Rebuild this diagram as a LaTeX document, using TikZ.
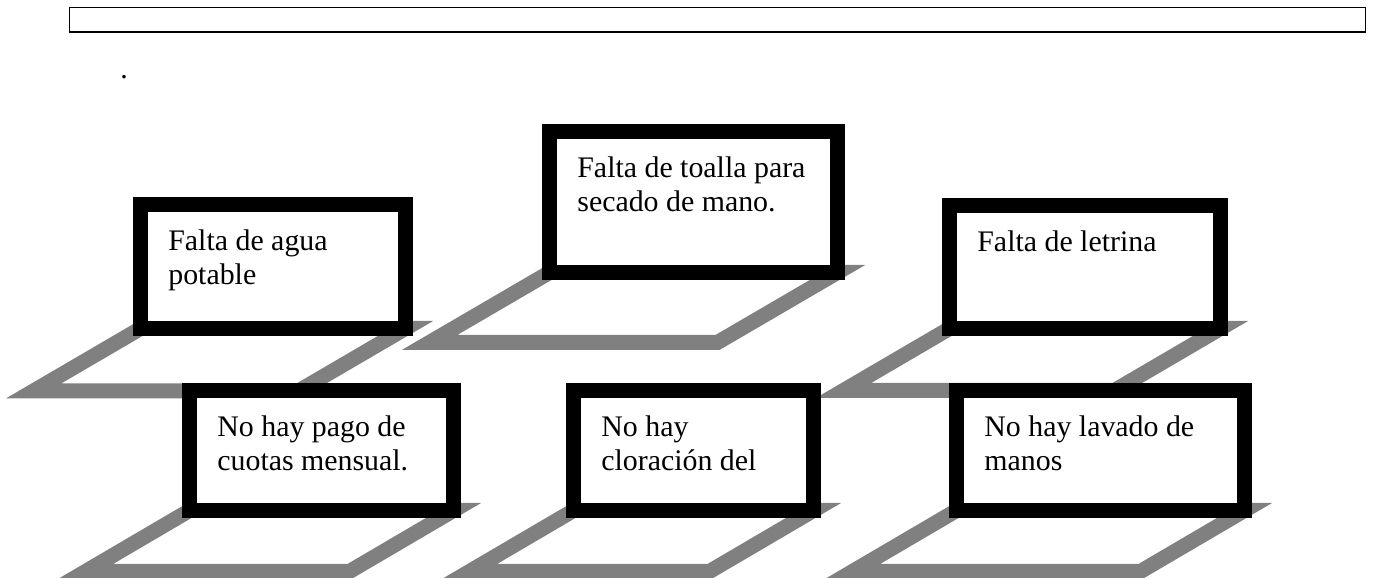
\documentclass[tikz,border=0pt]{standalone}
\usepackage{fontspec}
\setmainfont{Liberation Serif}
\usetikzlibrary{calc,backgrounds}
\tikzset{
  caja/.style={draw, line width=0.3cm, fill=white, outer sep=0pt, inner sep=0pt},
  sombra/.style={draw=gray, line width=0.3cm},
  texto/.style={anchor=base west, inner sep=0pt, font=\fontsize{17}{19.8}\selectfont},
}
\begin{document}
\begin{tikzpicture}[x=0.02cm,y=-0.02cm]
\useasboundingbox (0,0) rectangle (1374,578);
%titulo
        \draw[line width=0.75pt] (69.5,7.5) rectangle (1365.5,32);
        \node[texto] (punto) at (120,78) {.};
%fila de arriba
        \node[caja, minimum width=5.3cm,  minimum height=2.48cm] (agua)    at (273,266.5)  {};
        \node[caja, minimum width=5.76cm, minimum height=2.82cm] (toalla)  at (693.5,202)  {};
        \node[caja, minimum width=5.42cm, minimum height=2.46cm] (letrina) at (1085,267)   {};
%fila de abajo
        \node[caja, minimum width=5.28cm, minimum height=2.4cm]  (pago)    at (321.5,450.5) {};
        \node[caja, minimum width=4.8cm,  minimum height=2.4cm]  (cloro)   at (693.5,450.5) {};
        \node[caja, minimum width=5.76cm, minimum height=2.4cm]  (lavado)  at (1100.5,450.5) {};
%textos
        \node[texto] (t-agua)    at ($(agua.north west)+(27.5,45.5)$)    {\begin{tabular}[t]{@{}l@{}}Falta de agua\\potable\end{tabular}};
        \node[texto] (t-toalla)  at ($(toalla.north west)+(27.5,45.5)$)  {\begin{tabular}[t]{@{}l@{}}Falta de toalla para\\secado de mano.\end{tabular}};
        \node[texto] (t-letrina) at ($(letrina.north west)+(27.5,45.5)$) {Falta de letrina};
        \node[texto] (t-pago)    at ($(pago.north west)+(27.5,45.5)$)    {\begin{tabular}[t]{@{}l@{}}No hay pago de\\cuotas mensual.\end{tabular}};
        \node[texto] (t-cloro)   at ($(cloro.north west)+(27.5,45.5)$)   {\begin{tabular}[t]{@{}l@{}}No hay\\cloración del\end{tabular}};
        \node[texto] (t-lavado)  at ($(lavado.north west)+(27.5,45.5)$)  {\begin{tabular}[t]{@{}l@{}}No hay lavado de\\manos\end{tabular}};
%sombras
\begin{scope}[on background layer]
        \foreach \b/\s/\h in {agua/107/62.5, toalla/120/70, letrina/106/62, pago/104/61, cloro/104/61, lavado/104/61}
            \draw[sombra] (\b.south west) -- (\b.south east) -- ++(-\s,\h) -- ($(\b.south west)+(-\s,\h)$) -- cycle;
\end{scope}
\end{tikzpicture}
\end{document}
